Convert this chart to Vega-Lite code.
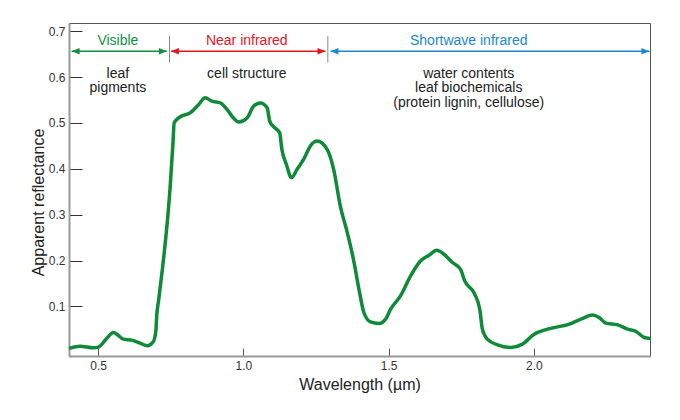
{
  "$schema": "https://vega.github.io/schema/vega-lite/v6.json",
  "width": 581,
  "height": 333,
  "autosize": "none",
  "padding": {"left": 69, "top": 23, "right": 30, "bottom": 64},
  "background": "white",
  "config": {
    "font": "Liberation Sans",
    "view": {"stroke": "#555555", "strokeWidth": 1}
  },
  "datasets": {
    "curve": [
      {"w": 0.400, "r": 0.0085}, {"w": 0.438, "r": 0.0135}, {"w": 0.484, "r": 0.0098}, {"w": 0.503, "r": 0.012},
      {"w": 0.528, "r": 0.029}, {"w": 0.553, "r": 0.0433}, {"w": 0.587, "r": 0.0287}, {"w": 0.616, "r": 0.0266},
      {"w": 0.645, "r": 0.020}, {"w": 0.670, "r": 0.0142}, {"w": 0.690, "r": 0.0229}, {"w": 0.699, "r": 0.0468},
      {"w": 0.702, "r": 0.0795}, {"w": 0.709, "r": 0.116}, {"w": 0.748, "r": 0.359}, {"w": 0.758, "r": 0.457},
      {"w": 0.762, "r": 0.5005}, {"w": 0.783, "r": 0.5136}, {"w": 0.817, "r": 0.522}, {"w": 0.846, "r": 0.540},
      {"w": 0.869, "r": 0.555}, {"w": 0.892, "r": 0.5476}, {"w": 0.921, "r": 0.544}, {"w": 0.944, "r": 0.5295},
      {"w": 0.962, "r": 0.514}, {"w": 0.984, "r": 0.502}, {"w": 1.013, "r": 0.511}, {"w": 1.036, "r": 0.537},
      {"w": 1.059, "r": 0.5437}, {"w": 1.082, "r": 0.533}, {"w": 1.091, "r": 0.504}, {"w": 1.104, "r": 0.492},
      {"w": 1.125, "r": 0.479}, {"w": 1.133, "r": 0.442}, {"w": 1.148, "r": 0.410}, {"w": 1.166, "r": 0.381},
      {"w": 1.185, "r": 0.399}, {"w": 1.208, "r": 0.421}, {"w": 1.231, "r": 0.450}, {"w": 1.254, "r": 0.4605},
      {"w": 1.289, "r": 0.442}, {"w": 1.311, "r": 0.399}, {"w": 1.334, "r": 0.319}, {"w": 1.358, "r": 0.261},
      {"w": 1.380, "r": 0.200}, {"w": 1.398, "r": 0.138}, {"w": 1.415, "r": 0.0869}, {"w": 1.438, "r": 0.0664},
      {"w": 1.467, "r": 0.0629}, {"w": 1.490, "r": 0.0723}, {"w": 1.507, "r": 0.094}, {"w": 1.541, "r": 0.123},
      {"w": 1.576, "r": 0.1666}, {"w": 1.610, "r": 0.199}, {"w": 1.639, "r": 0.2116}, {"w": 1.666, "r": 0.2225},
      {"w": 1.691, "r": 0.2138}, {"w": 1.720, "r": 0.1957}, {"w": 1.748, "r": 0.181}, {"w": 1.762, "r": 0.1557},
      {"w": 1.794, "r": 0.130}, {"w": 1.814, "r": 0.094}, {"w": 1.823, "r": 0.0505}, {"w": 1.840, "r": 0.0287},
      {"w": 1.875, "r": 0.0163}, {"w": 1.921, "r": 0.0107}, {"w": 1.961, "r": 0.0179}, {"w": 2.001, "r": 0.0396},
      {"w": 2.047, "r": 0.0505}, {"w": 2.122, "r": 0.0614}, {"w": 2.162, "r": 0.0723}, {"w": 2.202, "r": 0.0816},
      {"w": 2.225, "r": 0.076}, {"w": 2.248, "r": 0.0636}, {"w": 2.289, "r": 0.0599}, {"w": 2.323, "r": 0.0505},
      {"w": 2.352, "r": 0.0455}, {"w": 2.380, "r": 0.0324}, {"w": 2.400, "r": 0.0303}
    ],
    "bands": [
      {"band": "Visible", "start": 0.409, "end": 0.737, "mid": 0.5683, "y": 0.6564, "ylab": 0.6782},
      {"band": "Near infrared", "start": 0.751, "end": 1.283, "mid": 1.012, "y": 0.6564, "ylab": 0.6782},
      {"band": "Shortwave infrared", "start": 1.300, "end": 2.398, "mid": 1.776, "y": 0.6564, "ylab": 0.6782}
    ],
    "seps": [
      {"w": 0.746, "y1": 0.6318, "y2": 0.6896},
      {"w": 1.291, "y1": 0.6318, "y2": 0.6896}
    ],
    "notes": [
      {"w": 0.5683, "y": 0.6079, "t": "leaf"},
      {"w": 0.5683, "y": 0.5752, "t": "pigments"},
      {"w": 1.012, "y": 0.6079, "t": "cell structure"},
      {"w": 1.776, "y": 0.6079, "t": "water contents"},
      {"w": 1.776, "y": 0.5752, "t": "leaf biochemicals"},
      {"w": 1.776, "y": 0.5425, "t": "(protein lignin, cellulose)"}
    ]
  },
  "layer": [
    {
      "data": {"name": "curve"},
      "mark": {"type": "line", "interpolate": "monotone", "color": "#0e8a38", "strokeWidth": 3.5},
      "encoding": {
        "x": {
          "field": "w", "type": "quantitative",
          "scale": {"domain": [0.4, 2.4], "nice": false, "zero": false},
          "axis": {
            "values": [0.5, 1.0, 1.5, 2.0], "format": ".1f", "grid": false,
            "title": "Wavelength (µm)", "titleFontSize": 16, "titleFontWeight": "normal", "titleColor": "#222222",
            "titleY": 28, "titleBaseline": "middle",
            "labelFontSize": 12, "labelColor": "#333333", "labelPadding": 12,
            "tickSize": -8, "tickColor": "#555555", "tickWidth": 1,
            "domainColor": "#999999", "domainWidth": 2
          }
        },
        "y": {
          "field": "r", "type": "quantitative",
          "scale": {"domain": [-0.008, 0.718], "nice": false, "zero": false},
          "axis": {
            "values": [0.1, 0.2, 0.3, 0.4, 0.5, 0.6, 0.7], "format": ".1f", "grid": false,
            "title": "Apparent reflectance", "titleFontSize": 16, "titleFontWeight": "normal", "titleColor": "#222222",
            "titleX": -31, "titleY": 179, "titleBaseline": "middle", "titleAngle": -90,
            "labelFontSize": 12, "labelColor": "#333333", "labelPadding": 17,
            "tickSize": -13, "tickColor": "#333333", "tickWidth": 1,
            "domainColor": "#999999", "domainWidth": 2
          }
        }
      }
    },
    {
      "data": {"name": "seps"},
      "mark": {"type": "rule", "color": "#888888", "strokeWidth": 1},
      "encoding": {
        "x": {"field": "w", "type": "quantitative"},
        "y": {"field": "y1", "type": "quantitative"},
        "y2": {"field": "y2"}
      }
    },
    {
      "data": {"name": "bands"},
      "mark": {"type": "rule", "strokeWidth": 1.5},
      "encoding": {
        "x": {"field": "start", "type": "quantitative"},
        "x2": {"field": "end"},
        "y": {"field": "y", "type": "quantitative"},
        "color": {"field": "band", "type": "nominal", "scale": {"domain": ["Visible", "Near infrared", "Shortwave infrared"], "range": ["#13903f", "#e3151f", "#1c87d6"]}, "legend": null}
      }
    },
    {
      "data": {"name": "bands"},
      "mark": {"type": "point", "filled": true, "opacity": 1, "shape": "M0,0L1,-0.4L1,0.4Z", "size": 256, "strokeWidth": 0},
      "encoding": {
        "x": {"field": "start", "type": "quantitative"},
        "y": {"field": "y", "type": "quantitative"},
        "color": {"field": "band", "type": "nominal", "legend": null}
      }
    },
    {
      "data": {"name": "bands"},
      "mark": {"type": "point", "filled": true, "opacity": 1, "shape": "M0,0L-1,-0.4L-1,0.4Z", "size": 256, "strokeWidth": 0},
      "encoding": {
        "x": {"field": "end", "type": "quantitative"},
        "y": {"field": "y", "type": "quantitative"},
        "color": {"field": "band", "type": "nominal", "legend": null}
      }
    },
    {
      "data": {"name": "bands"},
      "mark": {"type": "text", "fontSize": 14, "baseline": "middle", "align": "center"},
      "encoding": {
        "x": {"field": "mid", "type": "quantitative"},
        "y": {"field": "ylab", "type": "quantitative"},
        "text": {"field": "band"},
        "color": {"field": "band", "type": "nominal", "legend": null}
      }
    },
    {
      "data": {"name": "notes"},
      "mark": {"type": "text", "fontSize": 14, "baseline": "middle", "align": "center", "color": "#222222"},
      "encoding": {
        "x": {"field": "w", "type": "quantitative"},
        "y": {"field": "y", "type": "quantitative"},
        "text": {"field": "t"}
      }
    }
  ]
}
